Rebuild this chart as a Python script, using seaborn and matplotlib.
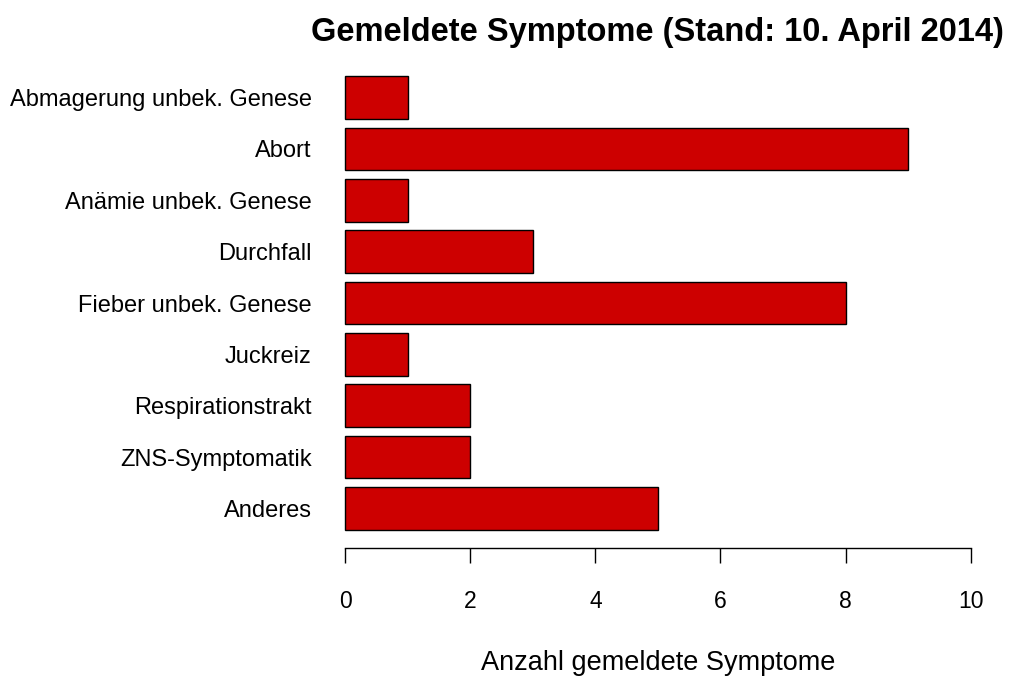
import numpy as np
import pandas as pd
import matplotlib
matplotlib.use("Agg")
import matplotlib.pyplot as plt
import seaborn as sns

# data
symptome = ['Abmagerung unbek. Genese', 'Abort', 'Anämie unbek. Genese', 'Durchfall',
            'Fieber unbek. Genese', 'Juckreiz', 'Respirationstrakt', 'ZNS-Symptomatik', 'Anderes']
anzahl = [1, 9, 1, 3, 8, 1, 2, 2, 5]
xticks = [0, 2, 4, 6, 8, 10]

df = pd.DataFrame({'symptom': symptome, 'anzahl': anzahl})

sns.set_style('white')
plt.rcParams['font.family'] = ['Liberation Sans', 'DejaVu Sans']

fig = plt.figure(figsize=(10.12, 6.81), dpi=100)
ax = fig.add_axes([0.3162, 0.1953, 0.6678, 0.7195])

sns.barplot(data=df, x='anzahl', y='symptom', order=symptome, orient='h',
            color='#CD0000', saturation=1, width=1 / 1.2,
            edgecolor='black', linewidth=1.0, ax=ax)

ax.set_xlim(-0.4, 10.4)
ax.set_ylim(8.77, -0.77)

for s in ['top', 'right', 'left']:
    ax.spines[s].set_visible(False)
ax.spines['bottom'].set_bounds(0, 10)
ax.spines['bottom'].set_color('black')
ax.spines['bottom'].set_linewidth(1.0)

ax.set_xticks(xticks)
ax.set_xticklabels([str(t) for t in xticks])
ax.tick_params(axis='x', direction='out', length=11, width=1.0, color='black',
               pad=19, labelsize=16.5, labelcolor='black', bottom=True)
ax.tick_params(axis='y', length=0, pad=6, labelsize=17, labelcolor='black')

ax.set_ylabel('')
ax.set_xlabel('Anzahl gemeldete Symptome', fontsize=19.5, labelpad=27, color='black')
ax.set_title('Gemeldete Symptome (Stand: 10. April 2014)', fontsize=23.5,
             fontweight='bold', pad=12, color='black')

fig.savefig('out.png', dpi=100, facecolor='white')
